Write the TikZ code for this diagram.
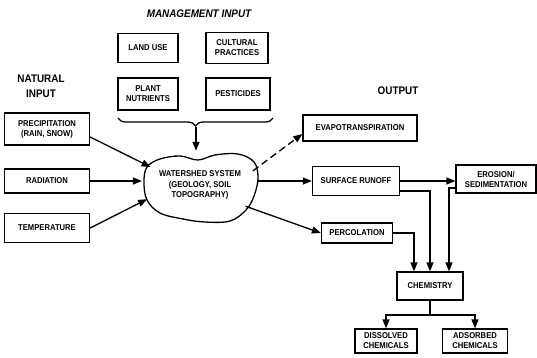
\documentclass[tikz,border=0pt]{standalone}
\usepackage{fontspec}
\newfontfamily\diagfont[FakeStretch=0.9]{Liberation Sans}
\usepackage{tikz}
\usetikzlibrary{positioning,arrows.meta,shapes.geometric,decorations.pathreplacing}

\begin{document}
\begin{tikzpicture}[x=1pt, y=-1pt,
			box/.style={draw=black, line width=1.3pt, align=center, inner sep=1pt, font=\diagfont\fontsize{8.5}{10}\selectfont\bfseries},
			heading/.style={align=center, font=\diagfont\fontsize{11}{15}\selectfont\bfseries},
			flow/.style={line width=1.3pt, -{Triangle[length=9pt, width=7pt]}},
		]
			\useasboundingbox (0,0) rectangle (537,357);

			%Headings
			\node[heading, font=\diagfont\fontsize{11}{12}\selectfont\bfseries\itshape]	(mgmt)	at (199,14)	{MANAGEMENT INPUT};
			\node[heading]	(natural)	at (41,86)	{NATURAL\\INPUT};
			\node[heading]	(output)	at (398,91)	{OUTPUT};

			%Management input
			\node[box, minimum width=60pt, minimum height=29pt]	(landuse)	at (148,48)	{LAND USE};
			\node[box, minimum width=62pt, minimum height=31pt]	(cultural)	at (237,48)	{CULTURAL\\PRACTICES};
			\node[box, minimum width=60pt, minimum height=32pt]	(nutrients)	at (148,94)	{PLANT\\NUTRIENTS};
			\node[box, minimum width=64pt, minimum height=32pt]	(pesticides)	at (238,94)	{PESTICIDES};

			%Natural input
			\node[box, minimum width=85pt, minimum height=32pt]	(precip)	at (47,129)	{PRECIPITATION\\(RAIN, SNOW)};
			\node[box, minimum width=85pt, minimum height=24pt]	(radiation)	at (47,181)	{RADIATION};
			\node[box, minimum width=85pt, minimum height=29pt]	(temperature)	at (47,228)	{TEMPERATURE};

			%Watershed
			\draw[line width=1.3pt] plot[smooth cycle, tension=0.6] coordinates {(144,182) (147,167) (160,159) (180,156) (198,160) (215,155) (238,154) (254,162) (258,178) (254,196) (246,210) (230,221) (205,222) (183,219) (160,213) (147,200)};
			\node[ellipse, minimum width=114pt, minimum height=68pt, inner sep=0pt, align=center, font=\diagfont\fontsize{8.5}{10.5}\selectfont\bfseries]	(cloud)	at (200,185)	{WATERSHED SYSTEM\\(GEOLOGY, SOIL\\TOPOGRAPHY)};

			%Output
			\node[box, minimum width=114pt, minimum height=26pt]	(evap)	at (360,128)	{EVAPOTRANSPIRATION};
			\node[box, minimum width=87pt, minimum height=29pt]	(runoff)	at (356,181)	{SURFACE RUNOFF};
			\node[box, minimum width=80pt, minimum height=28pt]	(erosion)	at (496,179)	{EROSION/\\SEDIMENTATION};
			\node[box, minimum width=71pt, minimum height=20pt]	(perc)	at (357,233)	{PERCOLATION};
			\node[box, minimum width=66pt, minimum height=28pt]	(chem)	at (430,286)	{CHEMISTRY};
			\node[box, minimum width=62pt, minimum height=24pt]	(dissolved)	at (386,341)	{DISSOLVED\\CHEMICALS};
			\node[box, minimum width=65pt, minimum height=24pt]	(adsorbed)	at (475,341)	{ADSORBED\\CHEMICALS};

			%Brace
			\draw[line width=1.3pt, decorate, decoration={brace, mirror, amplitude=8pt}]	(118,118) -- (273,118);
			\coordinate	(bracetip)	at (196,127);
			\coordinate	(split)	at (430,315);

			%Lines
			\draw[flow]	(bracetip) -- (bracetip |- cloud.north);
			\draw[flow]	([yshift=-8pt]precip.east) -- (cloud.160);
			\draw[flow]	(radiation.east) -- (cloud.west |- radiation.east);
			\draw[flow]	(temperature.east) -- (cloud.195);
			\draw[flow, dash pattern=on 7pt off 4pt]	(cloud.15) -- ([yshift=-6pt]evap.west);
			\draw[flow]	(cloud.east |- runoff.west) -- (runoff.west);
			\draw[flow]	(cloud.-25) -- (perc.west);
			\draw[flow]	(runoff.east) -- (erosion.west |- runoff.east);
			\draw[flow]	([yshift=-10pt]runoff.east) -| (chem.north);
			\draw[flow]	([yshift=-9pt]erosion.west) -| ([xshift=19pt]chem.north);
			\draw[flow]	(perc.east) -| ([xshift=-16pt]chem.north);
			\draw[line width=1.3pt]	(chem.south) -- (split);
			\draw[flow]	(split) -| (dissolved.north);
			\draw[flow]	(split) -| (adsorbed.north);

		\end{tikzpicture}
\end{document}
